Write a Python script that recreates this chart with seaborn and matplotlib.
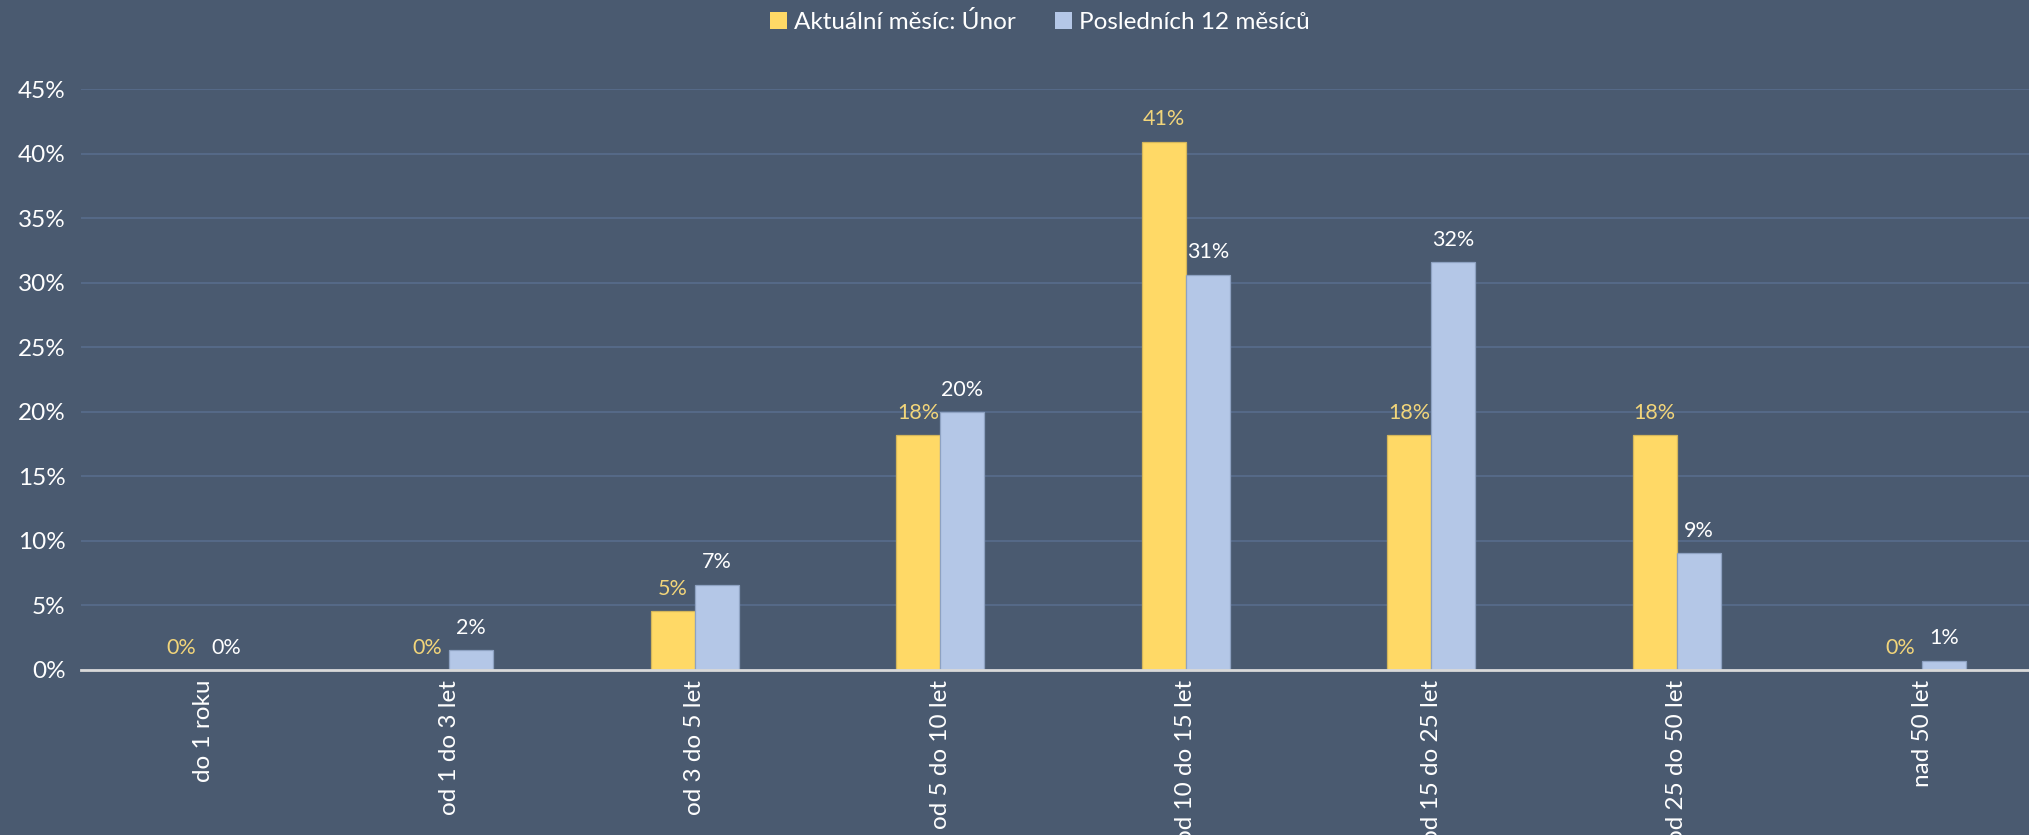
import matplotlib
matplotlib.use("Agg")
import matplotlib.pyplot as plt
import seaborn as sns
import pandas as pd
from matplotlib.ticker import FuncFormatter, MultipleLocator
from matplotlib.patches import Patch

categories = ["do 1 roku", "od 1 do 3 let", "od 3 do 5 let", "od 5 do 10 let",
              "od 10 do 15 let", "od 15 do 25 let", "od 25 do 50 let", "nad 50 let"]
series_names = ["Aktuální měsíc: Únor", "Posledních 12 měsíců"]
current_month = [0.0, 0.0, 4.55, 18.18, 40.91, 18.18, 18.18, 0.0]
last_12_months = [0.0, 1.52, 6.6, 19.95, 30.6, 31.6, 9.05, 0.7]

BG = "#4A5A70"
YELLOW = "#FFD966"
BLUE = "#B4C7E7"
GRID = "#566A88"
TXT = "#FFFFFF"
YLAB = "#F2D57A"

df = pd.DataFrame({
    "kategorie": categories * 2,
    "serie": [series_names[0]] * len(categories) + [series_names[1]] * len(categories),
    "hodnota": current_month + last_12_months,
})

sns.set_theme(style="white")
plt.rcParams["font.family"] = ["Lato", "DejaVu Sans"]

fig = plt.figure(figsize=(20.29, 8.35), dpi=100, facecolor=BG)
ax = fig.add_axes([81 / 2029, 165 / 835, 1 - 81 / 2029, (670 - 89) / 835])
ax.set_facecolor(BG)

sns.barplot(data=df, x="kategorie", y="hodnota", hue="serie", order=categories,
            hue_order=series_names, palette=[YELLOW, BLUE], width=0.36,
            saturation=1, ax=ax, legend=False)

edge_cols = ["#D4B65A", "#8EA2C2"]
for cont, ec, lc in zip(ax.containers, edge_cols, [YLAB, TXT]):
    for p in cont.patches:
        p.set_edgecolor(ec)
        p.set_linewidth(0.9)
    vals = [p.get_height() for p in cont.patches]
    ax.bar_label(cont, labels=[f"{v:.0f}%" for v in vals], padding=9,
                 color=lc, fontsize=15.5)

ax.set_ylim(0, 45)
ax.set_xlim(-0.5, 7.5 - 16 / 245.6)
ax.yaxis.set_major_locator(MultipleLocator(5))
ax.yaxis.set_major_formatter(FuncFormatter(lambda v, _: f"{v:.0f}%"))
ax.grid(axis="y", color=GRID, linewidth=1.4)
ax.grid(axis="x", visible=False)
ax.set_axisbelow(True)
for s in ["left", "right", "top"]:
    ax.spines[s].set_visible(False)
ax.spines["bottom"].set_color("#D9D9D9")
ax.spines["bottom"].set_linewidth(2)
ax.set_xlabel("")
ax.set_ylabel("")
ax.tick_params(axis="y", length=0, pad=11, labelsize=17.5, labelcolor=TXT)
ax.tick_params(axis="x", length=0, pad=7, labelsize=17.5, labelcolor=TXT, rotation=90)
for t in ax.get_xticklabels():
    t.set_va("top")
    t.set_ha("center")

handles = [Patch(facecolor=YELLOW, edgecolor="none"), Patch(facecolor=BLUE, edgecolor="none")]
fig.legend(handles, series_names, loc="center", bbox_to_anchor=(1040 / 2029, 1 - 22 / 835),
           ncol=2, frameon=False, fontsize=17.5, labelcolor=TXT, handlelength=0.7,
           handleheight=0.7, handletextpad=0.3, columnspacing=1.6)

fig.savefig("out.png", dpi=100, facecolor=BG)
